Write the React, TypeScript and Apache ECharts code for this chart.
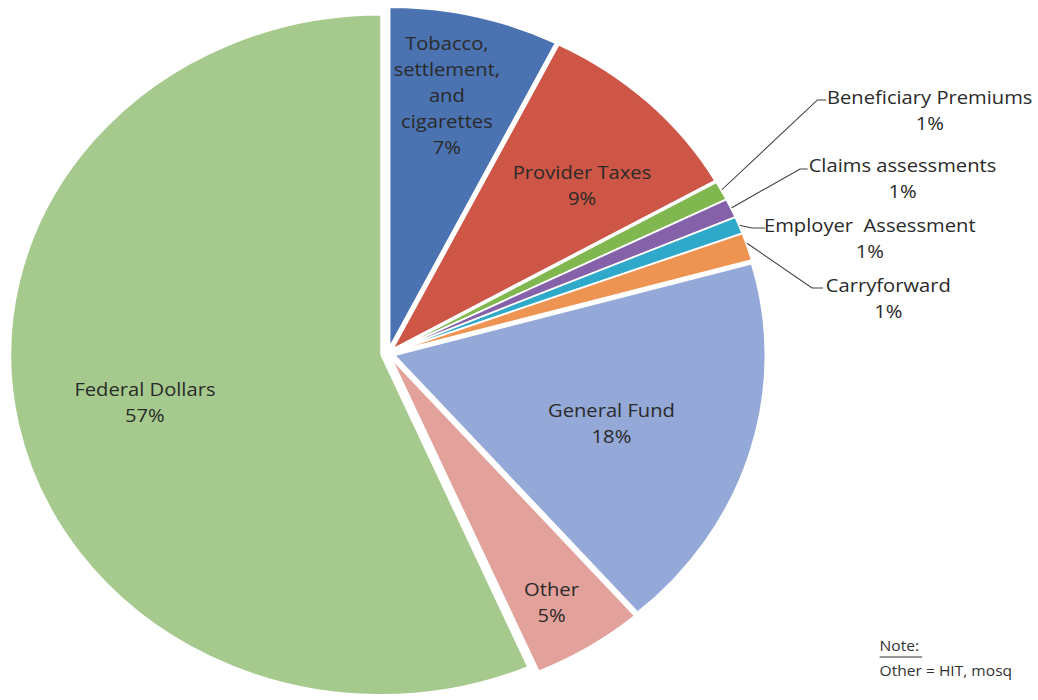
import React, { useEffect, useRef } from "react";
import * as echarts from "echarts";

// ---- data ----
const categories = [
  "Tobacco,\nsettlement,\nand\ncigarettes",
  "Provider Taxes",
  "Beneficiary Premiums",
  "Claims assessments",
  "Employer  Assessment",
  "Carryforward",
  "General Fund",
  "Other",
  "Federal Dollars",
];
const percentValues = [7.4, 9.4, 0.9, 0.9, 0.8, 1.3, 18.0, 4.9, 56.6];
const outsideLabelNames = [
  "Beneficiary Premiums",
  "Claims assessments",
  "Employer  Assessment",
  "Carryforward",
];
const noteLines = ["Note:", "Other = HIT, mosq"];

// ---- styles ----
const sliceColors = [
  "#4B72B1",
  "#CE5646",
  "#80B84F",
  "#8461A8",
  "#2FA9C9",
  "#EE9452",
  "#94A9D7",
  "#E3A19B",
  "#A6CA8E",
];
const STRETCH = 1.09; // the reference pie is an ellipse (horizontally stretched)
const CX = 388;
const CY = 353.5;
const RADIUS = 340;
// label anchor centres (chart coordinates)
const labelCenters: number[][] = [
  [442, 95],
  [566, 185],
  [885, 110],
  [860, 178],
  [830, 238],
  [847, 298],
  [593, 423],
  [538, 602],
  [165, 402],
];
// leader line [start, elbow, end] for outside labels
const leaderLines: Record<number, number[][]> = {
  2: [[694, 190], [782, 100], [790, 100]],
  3: [[703, 208], [766, 169], [773, 169]],
  4: [[709, 225], [722, 228], [734, 228]],
  5: [[717, 243], [777, 288], [787, 288]],
};

const FONT = "'Open Sans', 'Noto Sans', sans-serif";

export default function App() {
  const ref = useRef<HTMLDivElement>(null);
  useEffect(() => {
    if (!ref.current) return;
    const chart = echarts.init(ref.current, undefined, { renderer: "svg" });
    const sliceData = categories.map((name, i) => ({
      name,
      value: percentValues[i],
      selected: true,
      itemStyle: { color: sliceColors[i] },
    }));
    const labelData = categories.map((name, i) => {
      const outside = outsideLabelNames.includes(name);
      return {
        name,
        value: percentValues[i],
        label: { position: outside ? "outside" : "inside" },
        labelLine: { show: outside },
      };
    });
    chart.setOption({
      animation: false,
      backgroundColor: "#ffffff",
      series: [
        {
          type: "pie",
          center: [CX, CY],
          radius: RADIUS,
          startAngle: 90,
          clockwise: true,
          selectedMode: "multiple",
          selectedOffset: 6.5,
          silent: true,
          emphasis: { disabled: true },
          itemStyle: { borderColor: "#ffffff", borderWidth: 1.5 },
          select: { itemStyle: { borderColor: "#ffffff", borderWidth: 1.5 } },
          label: { show: false },
          labelLine: { show: false },
          data: sliceData,
        },
        {
          type: "pie",
          center: [CX, CY],
          radius: RADIUS,
          startAngle: 90,
          clockwise: true,
          selectedMode: false,
          silent: true,
          avoidLabelOverlap: false,
          emphasis: { disabled: true },
          itemStyle: { color: "rgba(0,0,0,0)", borderWidth: 0 },
          label: {
            show: true,
            color: "#2a2a2a",
            fontFamily: FONT,
            fontSize: 18.5,
            lineHeight: 26,
            align: "center",
            formatter: (p: any) => `${p.name}\n${Math.round(p.value)}%`,
          },
          labelLine: {
            show: false,
            lineStyle: { color: "#404040", width: 1 },
          },
          labelLayout: (p: any) => {
            const c = labelCenters[p.dataIndex];
            const out: any = {
              x: c[0],
              y: c[1],
              align: "center",
              verticalAlign: "middle",
            };
            const ll = leaderLines[p.dataIndex];
            if (ll) out.labelLinePoints = ll;
            return out;
          },
          data: labelData,
        },
      ],
      graphic: [
        {
          type: "text",
          left: 839,
          top: 638,
          style: {
            text: noteLines[0],
            fill: "#333333",
            font: `14.3px ${FONT}`,
          },
        },
        {
          type: "line",
          shape: { x1: 839, y1: 657, x2: 878, y2: 657 },
          style: { stroke: "#333333", lineWidth: 1 },
        },
        {
          type: "text",
          left: 839,
          top: 663,
          style: {
            text: noteLines[1],
            fill: "#333333",
            font: `14.3px ${FONT}`,
          },
        },
      ],
    });
    return () => chart.dispose();
  }, []);
  return (
    <div
      style={{
        position: "fixed",
        left: 0,
        top: 0,
        width: 1038,
        height: 700,
        overflow: "hidden",
        background: "#ffffff",
      }}
    >
      <div
        ref={ref}
        style={{
          width: 1038,
          height: 700,
          transform: `scaleX(${STRETCH})`,
          transformOrigin: `${CX}px 0px`,
        }}
      />
    </div>
  );
}
